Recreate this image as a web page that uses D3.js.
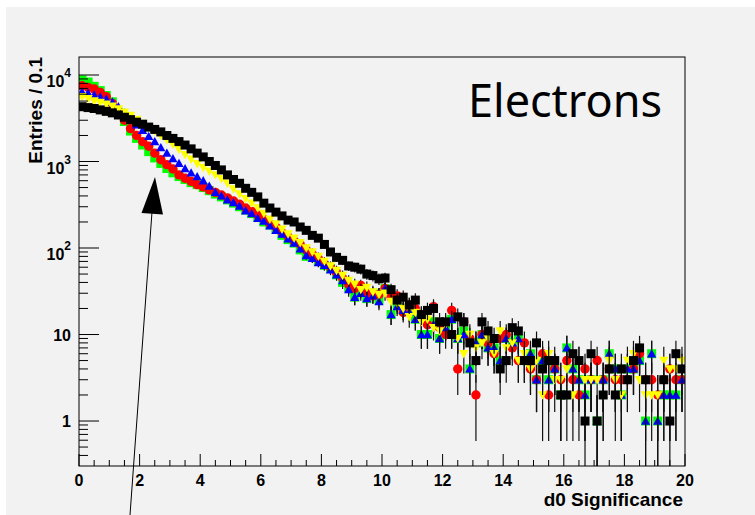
<!DOCTYPE html>
<html>
<head>
<meta charset="utf-8">
<script src="https://cdn.jsdelivr.net/npm/d3@7"></script>
<style>
  body { margin: 0; background: #fff; }
  text { font-family: "Liberation Sans", Arial, sans-serif; font-weight: bold; }
</style>
</head>
<body>
<svg id="chart" width="755" height="515"></svg>
<script>
// bin centres, width 0.2
const binCenters = d3.range(100).map(i => +(0.1 + 0.2 * i).toFixed(1));

const greenSquares = [
  8800, 8300, 7400, 6600, 5800, 4900, 3700, 2900, 2250, 1850,
  1550, 1300, 1100, 950, 830, 740, 670, 620, 570, 540,
  500, 460, 420, 390, 360, 330, 300, 275, 250, 225,
  200, 185, 165, 140, 125, 114, 95, 80, 78, 70,
  63, 58, 49, 40, 35, 27, 32, 26, 30, 25,
  34, 17, 22, 19, 20, 15, 10, 10, 14, 9,
  12, 15, 9, 11, 4, 8, 10, 7, 7, 5,
  9, 8, 9, 5, 6, 3, 5, 3, 4, 2,
  7, 4, 3, 2, 3, 1, 3, 6, 4, 2,
  4, 4, 5, 1, 6, 1, 2, 2, 2, 3
];
const redCircles = [
  7500, 7200, 6900, 6300, 5600, 4700, 3800, 3000, 2400, 2000,
  1700, 1500, 1250, 1050, 920, 820, 700, 640, 590, 540,
  510, 470, 440, 410, 380, 350, 320, 290, 265, 240,
  215, 190, 175, 150, 135, 120, 110, 95, 85, 75,
  65, 60, 52, 45, 38, 34, 37, 30, 28, 29,
  34, 27, 28, 18, 22, 20, 17, 13, 21, 12,
  10, 19, 4, 14, 9, 2, 10, 8, 6, 9,
  10, 7, 5, 8, 4, 3, 6, 2, 4, 3,
  5, 3, 2, 4, 3, 5, 3, 4, 3, 3,
  3, 4, 6, 3, 3, 2, 3, 4, 3, 3
];
const blueTriangles = [
  6400, 6200, 5900, 5600, 5300, 4900, 4300, 3650, 3100, 2650,
  2300, 1950, 1700, 1450, 1250, 1080, 950, 830, 740, 670,
  600, 520, 440, 400, 360, 335, 305, 270, 250, 220,
  205, 180, 160, 145, 128, 114, 98, 82, 76, 68,
  63, 56, 49, 42, 33, 27, 30, 26, 28, 24,
  34, 17, 21, 19, 18, 15, 10, 10, 13, 9,
  12, 15, 9, 10, 4, 8, 10, 7, 7, 5,
  9, 8, 9, 5, 6, 3, 5, 3, 4, 2,
  7, 4, 3, 2, 3, 1, 3, 6, 4, 2,
  4, 4, 5, 1, 6, 1, 2, 2, 2, 3
];
const yellowTriangles = [
  5600, 5300, 5000, 4800, 4600, 4350, 4050, 3700, 3400, 3050,
  2750, 2500, 2250, 2000, 1780, 1580, 1380, 1200, 1060, 940,
  850, 770, 700, 630, 560, 480, 420, 370, 330, 290,
  250, 215, 190, 165, 145, 130, 115, 100, 90, 80,
  70, 62, 55, 48, 42, 38, 33, 35, 31, 29,
  30, 24, 23, 20, 16, 18, 14, 15, 12, 11,
  13, 10, 9, 6, 10, 7, 8, 9, 6, 11,
  7, 8, 5, 6, 4, 5, 2, 6, 3, 3,
  4, 2, 5, 3, 3, 3, 2, 5, 3, 2,
  5, 6, 3, 2, 2, 2, 5, 4, 4, 5
];
const blackSquares = [
  4300, 4200, 4100, 3950, 3800, 3650, 3450, 3250, 3050, 2850,
  2700, 2500, 2350, 2200, 2000, 1850, 1700, 1550, 1400, 1250,
  1130, 1000, 900, 800, 700, 620, 560, 490, 440, 390,
  330, 290, 260, 235, 210, 200, 175, 160, 140, 130,
  110, 90, 78, 72, 62, 60, 57, 50, 48, 44,
  45, 33, 25, 27, 22, 25, 17, 19, 20, 14,
  14, 10, 16, 14, 8, 5, 14, 11, 9, 4,
  5, 12, 11, 5, 5, 8, 4, 5, 5, 2,
  2, 6, 5, 1, 6, 1, 2, 4, 2, 4,
  3, 5, 7, 3, 0, 0, 3, 1, 6, 4
];

const xTickLabels = ['0', '2', '4', '6', '8', '10', '12', '14', '16', '18', '20'];
const yMajorTicks = [1, 10, 100, 1000, 10000];

const svg = d3.select('#chart');

// canvas
svg.append('rect').attr('x', 6).attr('y', 7).attr('width', 749).attr('height', 508).attr('fill', '#f2f2f2');

const padL = 79, padR = 685, padT = 57, padB = 466;
const x = d3.scaleLinear().domain([0, 20]).range([padL, padR]);
const y = d3.scaleLog().domain([0.302, 16150]).range([padB, padT]);

svg.append('defs').append('clipPath').attr('id', 'frame')
  .append('rect').attr('x', padL).attr('y', padT).attr('width', padR - padL).attr('height', padB - padT);

const plot = svg.append('g').attr('clip-path', 'url(#frame)');

const sym = {
  square: s => `M${-s},${-s}H${s}V${s}H${-s}Z`,
  circle: s => `M${-s},0A${s},${s} 0 1,0 ${s},0A${s},${s} 0 1,0 ${-s},0Z`,
  up: s => `M0,${-s}L${s},${s * 0.8}L${-s},${s * 0.8}Z`,
  down: s => `M0,${s}L${s},${-s * 0.8}L${-s},${-s * 0.8}Z`
};

const series = [
  { values: greenSquares, color: '#00ff00', shape: sym.square(4.5) },
  { values: redCircles, color: '#ff0000', shape: sym.circle(4.7) },
  { values: blueTriangles, color: '#0000ff', shape: sym.up(4.6) },
  { values: yellowTriangles, color: '#ffff00', shape: sym.down(4.7) },
  { values: blackSquares, color: '#000000', shape: sym.square(4.5) }
];

series.forEach(s => {
  const pts = s.values.map((v, i) => ({ x: binCenters[i], v })).filter(d => d.v > 0);
  const g = plot.append('g');
  g.selectAll('line').data(pts).enter().append('line')
    .attr('x1', d => x(d.x)).attr('x2', d => x(d.x))
    .attr('y1', d => d.v - Math.sqrt(d.v) > 0 ? y(d.v - Math.sqrt(d.v)) : padB + 5)
    .attr('y2', d => y(d.v + Math.sqrt(d.v)))
    .attr('stroke', '#111').attr('stroke-width', 1.2);
  g.selectAll('path').data(pts).enter().append('path')
    .attr('transform', d => `translate(${x(d.x)},${y(d.v)})`)
    .attr('d', s.shape)
    .attr('fill', s.color);
});

// frame
svg.append('rect').attr('x', padL).attr('y', padT).attr('width', padR - padL).attr('height', padB - padT)
  .attr('fill', 'none').attr('stroke', '#000').attr('stroke-width', 1);

// x axis ticks
const xAxis = svg.append('g');
x.ticks(40).forEach(t => {
  const major = Math.abs(t % 2) < 1e-9;
  xAxis.append('line').attr('x1', x(t)).attr('x2', x(t))
    .attr('y1', padB).attr('y2', padB - (major ? 12 : 6)).attr('stroke', '#000');
});
xTickLabels.forEach(l => {
  xAxis.append('text').attr('x', x(+l)).attr('y', 486).attr('text-anchor', 'middle')
    .attr('font-size', 16).text(l);
});
svg.append('text').attr('x', 683).attr('y', 506).attr('text-anchor', 'end')
  .attr('font-size', 19).text('d0 Significance');

// y axis ticks
const yAxis = svg.append('g');
y.ticks().forEach(t => {
  const major = yMajorTicks.includes(t);
  yAxis.append('line').attr('x1', padL).attr('x2', padL + (major ? 20 : 9))
    .attr('y1', y(t)).attr('y2', y(t)).attr('stroke', '#000');
});
yMajorTicks.forEach(t => {
  const e = Math.round(Math.log10(t));
  if (e <= 1) {
    yAxis.append('text').attr('x', 71).attr('y', y(t) + 6).attr('text-anchor', 'end')
      .attr('font-size', 16).text(String(t));
  } else {
    const lbl = yAxis.append('text').attr('x', 71).attr('y', y(t) + 12).attr('text-anchor', 'end').attr('font-size', 16);
    lbl.append('tspan').text('10');
    lbl.append('tspan').attr('dy', -10).attr('font-size', 12).text(String(e));
  }
});
svg.append('text').attr('transform', `translate(42,${padT}) rotate(-90)`).attr('text-anchor', 'end')
  .attr('font-size', 19).text('Entries / 0.1');

// label
svg.append('text').attr('x', 468).attr('y', 117)
  .style('font-family', '"Noto Sans", sans-serif').style('font-weight', 'normal')
  .attr('font-size', 45).text('Electrons');

// arrow
svg.append('line').attr('x1', 130).attr('y1', 515).attr('x2', 152.5).attr('y2', 205)
  .attr('stroke', '#000').attr('stroke-width', 1);
svg.append('path').attr('d', 'M155,177L141.5,213L163,214.5Z').attr('fill', '#000');
</script>
</body>
</html>
